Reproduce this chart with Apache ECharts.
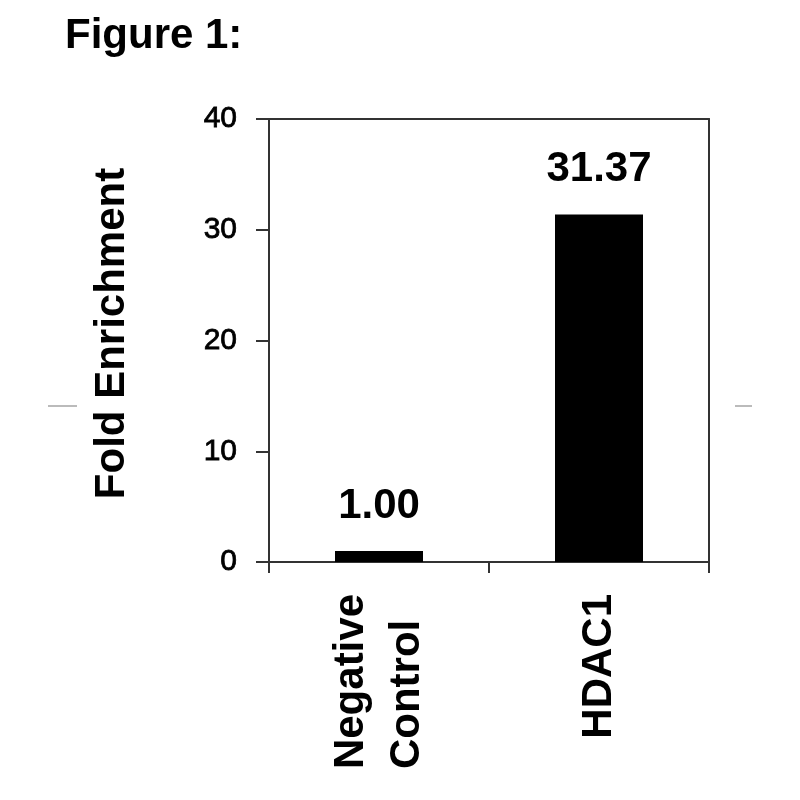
<!DOCTYPE html>
<html>
<head>
<meta charset="utf-8">
<script src="https://cdn.jsdelivr.net/npm/echarts@6/dist/echarts.min.js"></script>
<style>html,body{margin:0;padding:0;background:#fff}#c{width:800px;height:800px}</style>
</head>
<body>
<div id="c"></div>
<script>
var categories = ['Negative\nControl', 'HDAC1'];
var foldEnrichment = [1.00, 31.37];
var yTicks = [0, 10, 20, 30, 40];

var FONT = '"Liberation Sans", Arial, Helvetica, sans-serif';
var AXIS_COLOR = '#333';
var chart = echarts.init(document.getElementById('c'), null, {renderer: 'canvas'});
chart.setOption({
  backgroundColor: '#fff',
  animation: false,
  title: {
    text: 'Figure 1:', left: 65, top: 15, padding: 0,
    textStyle: {fontFamily: FONT, fontSize: 42, fontWeight: 'bold', color: '#000'}
  },
  grid: {left: 269, right: 91, top: 119, bottom: 238, containLabel: false},
  xAxis: [{
    type: 'category', data: categories, position: 'bottom',
    axisLine: {show: true, lineStyle: {color: AXIS_COLOR, width: 2}},
    axisTick: {show: true, alignWithLabel: false, length: 11, inside: false, lineStyle: {color: AXIS_COLOR, width: 2}},
    axisLabel: {
      rotate: 90, margin: 32, interval: 0, color: '#000',
      formatter: function (v) { return v.split('\n').map(function (s) { return '{l|' + s + '}'; }).join('\n'); },
      rich: {l: {fontFamily: FONT, fontSize: 42, fontWeight: 'bold', lineHeight: 56, align: 'left', color: '#000'}}
    },
    splitLine: {show: false}
  }, {
    type: 'category', data: categories, position: 'top',
    axisLine: {show: true, onZero: false, lineStyle: {color: AXIS_COLOR, width: 2}},
    axisTick: {show: false}, axisLabel: {show: false}, splitLine: {show: false}
  }],
  yAxis: [{
    type: 'value', min: yTicks[0], max: yTicks[yTicks.length - 1], interval: 10, position: 'left',
    name: 'Fold Enrichment', nameLocation: 'middle', nameRotate: 90, nameGap: 136,
    nameTextStyle: {fontFamily: FONT, fontSize: 42, fontWeight: 'bold', color: '#000', padding: [0, 0, 0, 14]},
    axisLine: {show: true, onZero: false, lineStyle: {color: AXIS_COLOR, width: 2}},
    axisTick: {show: true, length: 13, lineStyle: {color: AXIS_COLOR, width: 2}},
    axisLabel: {fontFamily: FONT, fontSize: 30, color: '#000', margin: 32, textBorderColor: '#000', textBorderWidth: 0.8},
    splitLine: {show: false}
  }, {
    type: 'value', min: yTicks[0], max: yTicks[yTicks.length - 1], interval: 10, position: 'right',
    axisLine: {show: true, onZero: false, lineStyle: {color: AXIS_COLOR, width: 2}},
    axisTick: {show: false}, axisLabel: {show: false}, splitLine: {show: false}
  }],
  series: [{
    type: 'bar', data: foldEnrichment, barWidth: '40%', xAxisIndex: 0, yAxisIndex: 0,
    itemStyle: {color: '#000'},
    label: {
      show: true, position: 'top', distance: 24, color: '#000',
      fontFamily: FONT, fontSize: 42, fontWeight: 'bold',
      formatter: function (p) { return p.value.toFixed(2); }
    }
  }],
  graphic: [
    {type: 'line', shape: {x1: 48, y1: 406, x2: 77, y2: 406}, style: {stroke: '#bbb', lineWidth: 2}},
    {type: 'line', shape: {x1: 735, y1: 406, x2: 752, y2: 406}, style: {stroke: '#bbb', lineWidth: 2}}
  ]
});
</script>
</body>
</html>
